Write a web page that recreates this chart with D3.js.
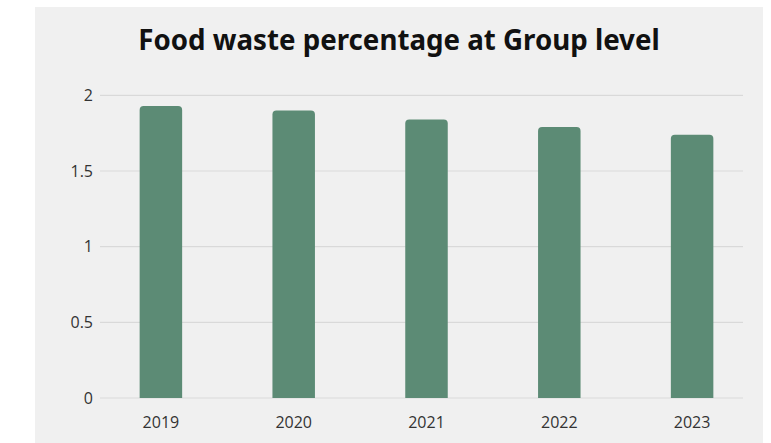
<!DOCTYPE html>
<html>
<head>
<meta charset="utf-8">
<script src="https://cdn.jsdelivr.net/npm/d3@7/dist/d3.min.js"></script>
<style>
  html, body { margin: 0; padding: 0; background: #ffffff; }
  svg { display: block; }
</style>
</head>
<body>
<svg id="chart" width="771" height="443"></svg>
<script>
// Food waste percentage per year
const years = ["2019", "2020", "2021", "2022", "2023"];
const wastePct = [1.93, 1.90, 1.84, 1.79, 1.74];
const yTicks = [0, 0.5, 1, 1.5, 2];
const titleText = "Food waste percentage at Group level";

const svg = d3.select("#chart");

// card background
svg.append("rect")
  .attr("x", 35).attr("y", 7)
  .attr("width", 728).attr("height", 436)
  .attr("fill", "#f0f0f0");

const y = d3.scaleLinear().domain([0, 2]).range([398, 95.3]);
const x = d3.scaleBand().domain(years).range([94.5, 758.5]).paddingInner(0.68).paddingOuter(0.34);

const gridLeft = 100, gridRight = 743;

// horizontal gridlines
svg.append("g")
  .selectAll("line")
  .data(yTicks)
  .join("line")
  .attr("x1", gridLeft).attr("x2", gridRight)
  .attr("y1", d => y(d)).attr("y2", d => y(d))
  .attr("stroke", "#d9d9d9")
  .attr("stroke-width", 1.2);

const labelFont = "'Open Sans', sans-serif";

// y axis labels
const yAxis = d3.axisLeft(y).tickValues(yTicks).tickSize(0).tickPadding(0)
  .tickFormat(d => String(d));
svg.append("g")
  .attr("transform", `translate(93,0)`)
  .call(yAxis)
  .call(g => g.select(".domain").remove())
  .call(g => g.selectAll("text")
    .attr("fill", "#333")
    .attr("font-family", labelFont)
    .attr("font-size", 16));

// bars with rounded top corners
const r = 4;
function barPath(d, i) {
  const x0 = x(years[i]), w = x.bandwidth();
  const yt = y(d), yb = y(0);
  return `M${x0},${yb}V${yt + r}Q${x0},${yt} ${x0 + r},${yt}H${x0 + w - r}Q${x0 + w},${yt} ${x0 + w},${yt + r}V${yb}Z`;
}
svg.append("g")
  .selectAll("path")
  .data(wastePct)
  .join("path")
  .attr("d", (d, i) => barPath(d, i))
  .attr("fill", "#5c8b75");

// x axis labels
const xAxis = d3.axisBottom(x).tickSize(0).tickPadding(0);
svg.append("g")
  .attr("transform", `translate(0,428)`)
  .call(xAxis)
  .call(g => g.select(".domain").remove())
  .call(g => g.selectAll("text")
    .attr("y", 0).attr("dy", 0)
    .attr("fill", "#333")
    .attr("font-family", labelFont)
    .attr("font-size", 16));

// title
svg.append("text")
  .attr("x", 399).attr("y", 50)
  .attr("text-anchor", "middle")
  .attr("font-family", "'Noto Sans', sans-serif")
  .attr("font-weight", "bold")
  .attr("font-size", 27.7)
  .attr("fill", "#111")
  .text(titleText);
</script>
</body>
</html>
